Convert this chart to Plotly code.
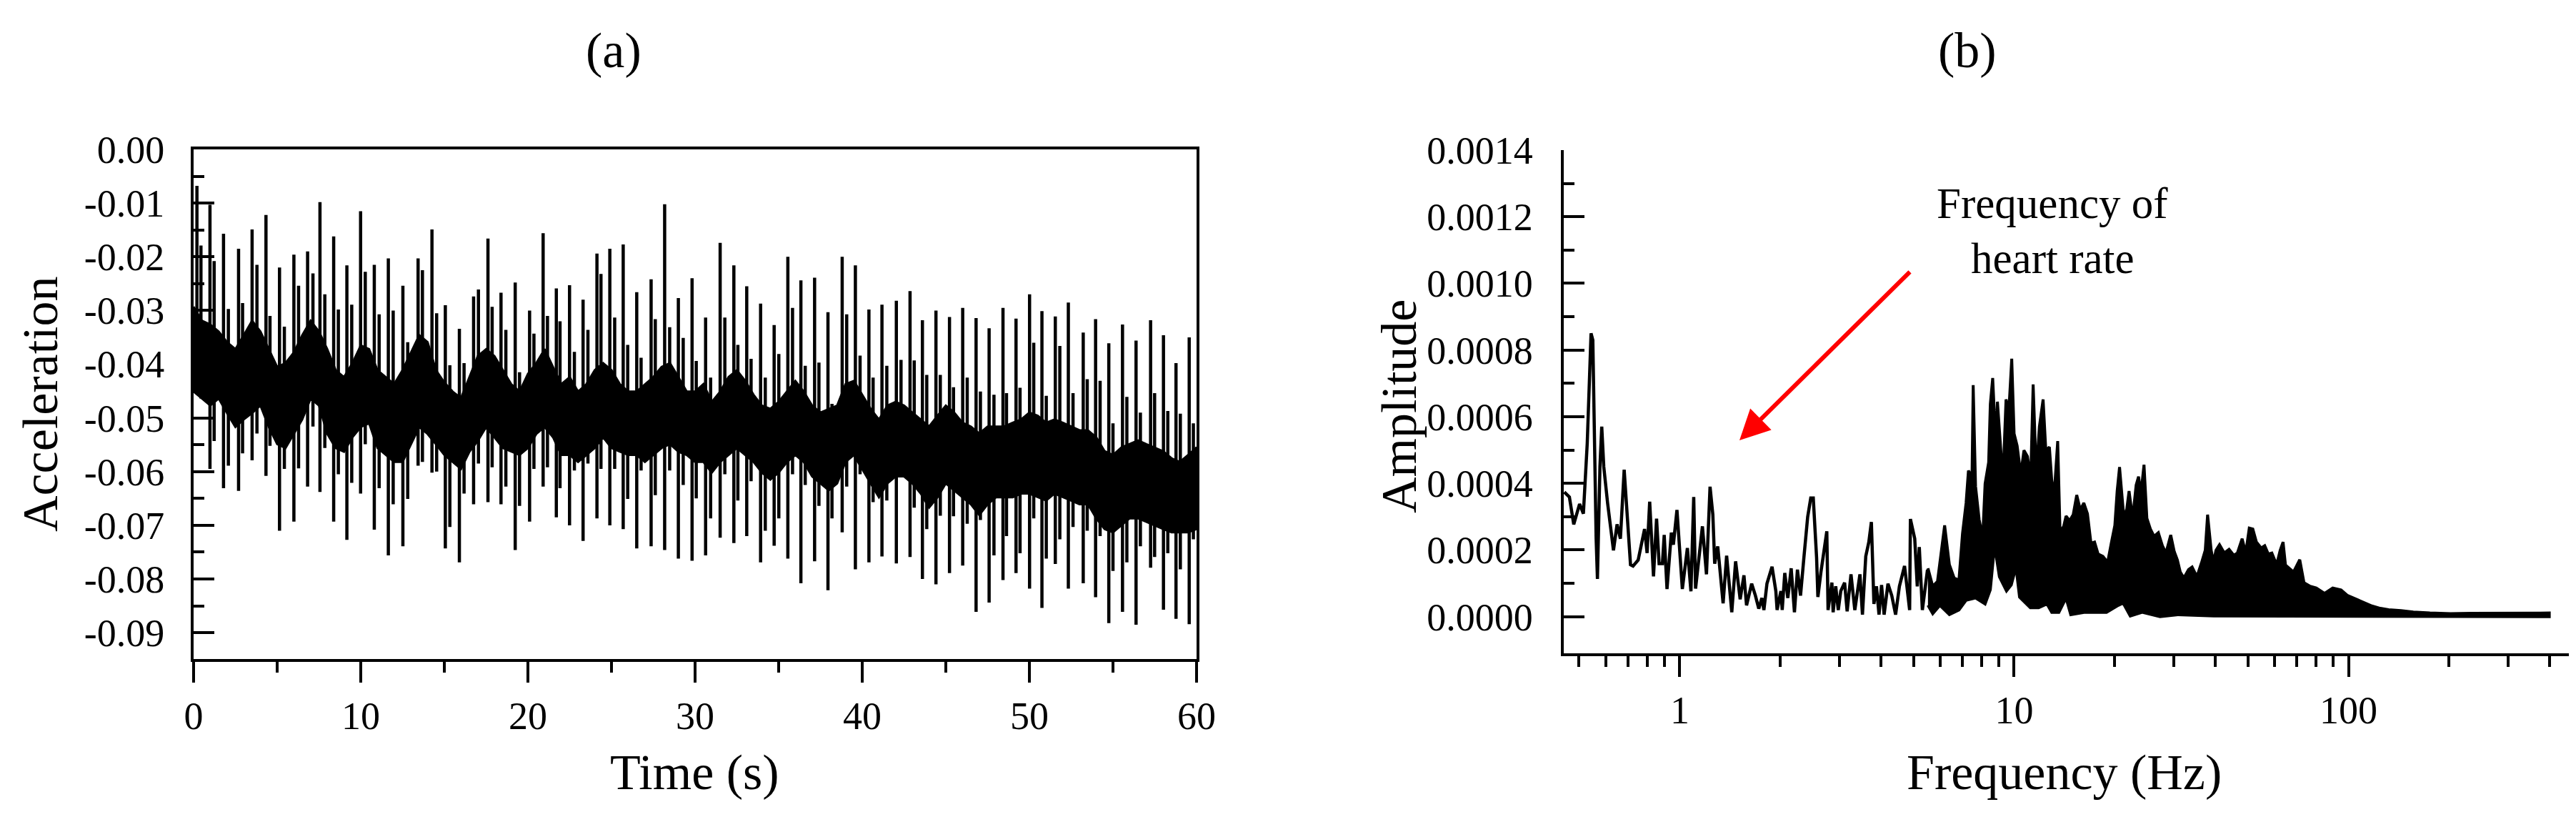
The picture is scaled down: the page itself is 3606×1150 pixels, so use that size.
import plotly.graph_objects as go

W, H = 3606, 1150
FONT = "Liberation Serif"

# ---------------- (a) acceleration time series (values in 1e-4 units) ----------------
# time grid of the dense core band (s)
env_t = [0.0, 0.5, 1.0, 1.5, 2.0, 2.5, 3.0, 3.5, 4.0, 4.5,
         5.0, 5.5, 6.0, 6.5, 7.0, 7.5, 8.0, 8.5, 9.0, 9.5,
         10.0, 10.5, 11.0, 11.5, 12.0, 12.5, 13.0, 13.5, 14.0, 14.5,
         15.0, 15.5, 16.0, 16.5, 17.0, 17.5, 18.0, 18.5, 19.0, 19.5,
         20.0, 20.5, 21.0, 21.5, 22.0, 22.5, 23.0, 23.5, 24.0, 24.5,
         25.0, 25.5, 26.0, 26.5, 27.0, 27.5, 28.0, 28.5, 29.0, 29.5,
         30.0, 30.5, 31.0, 31.5, 32.0, 32.5, 33.0, 33.5, 34.0, 34.5,
         35.0, 35.5, 36.0, 36.5, 37.0, 37.5, 38.0, 38.5, 39.0, 39.5,
         40.0, 40.5, 41.0, 41.5, 42.0, 42.5, 43.0, 43.5, 44.0, 44.5,
         45.0, 45.5, 46.0, 46.5, 47.0, 47.5, 48.0, 48.5, 49.0, 49.5,
         50.0, 50.5, 51.0, 51.5, 52.0, 52.5, 53.0, 53.5, 54.0, 54.5,
         55.0, 55.5, 56.0, 56.5, 57.0, 57.5, 58.0, 58.5, 59.0, 59.5,
         60.0]
# upper / lower edge of the dense band
env_hi = [-293, -319, -326, -339, -359, -372, -346, -319, -339, -372,
          -405, -398, -378, -346, -319, -339, -372, -411, -424, -398,
          -365, -372, -411, -424, -437, -411, -378, -346, -359, -411,
          -434, -451, -463, -424, -385, -372, -385, -411, -437, -451,
          -418, -398, -372, -405, -437, -424, -451, -437, -411, -398,
          -411, -437, -451, -451, -437, -424, -405, -398, -424, -451,
          -451, -437, -470, -451, -424, -411, -431, -457, -477, -483,
          -470, -451, -431, -451, -477, -490, -483, -477, -437, -431,
          -457, -483, -503, -477, -470, -477, -490, -503, -516, -496,
          -477, -490, -509, -516, -529, -516, -516, -516, -509, -503,
          -490, -496, -509, -503, -509, -516, -523, -523, -536, -562,
          -569, -555, -549, -542, -549, -555, -562, -575, -582, -569,
          -555]
env_lo = [-451, -464, -477, -464, -491, -517, -503, -491, -477, -517,
          -549, -556, -530, -503, -464, -477, -530, -556, -563, -536,
          -517, -510, -556, -569, -582, -582, -549, -517, -530, -549,
          -569, -582, -595, -563, -543, -517, -536, -556, -563, -569,
          -556, -530, -517, -536, -569, -569, -582, -569, -556, -536,
          -556, -563, -569, -569, -582, -569, -556, -549, -563, -569,
          -582, -582, -602, -582, -569, -556, -569, -582, -602, -615,
          -602, -582, -569, -582, -609, -622, -635, -622, -582, -569,
          -595, -622, -648, -622, -609, -609, -622, -641, -667, -648,
          -622, -635, -648, -661, -681, -661, -648, -648, -648, -641,
          -641, -648, -654, -641, -648, -654, -661, -661, -687, -707,
          -713, -700, -687, -687, -694, -700, -707, -713, -713, -713,
          -707]

# heartbeat spikes: time (s), top and bottom of each spike
spike_t = [0.20, 0.44, 0.98, 1.23, 1.79, 2.08, 2.69, 2.93, 3.50, 3.79,
           4.33, 4.57, 5.14, 5.43, 6.00, 6.28, 6.82, 7.14, 7.56, 7.85,
           8.38, 8.66, 9.17, 9.46, 9.99, 10.27, 10.81, 11.10, 11.65, 11.94,
           12.52, 12.81, 13.43, 13.69, 14.26, 14.54, 15.06, 15.33, 15.90, 16.18,
           16.75, 17.04, 17.61, 17.86, 18.39, 18.68, 19.24, 19.50, 20.10, 20.36,
           20.91, 21.17, 21.70, 21.92, 22.49, 22.78, 23.30, 23.59, 24.13, 24.37,
           24.90, 25.19, 25.70, 25.97, 26.51, 26.77, 27.37, 27.62, 28.18, 28.48,
           29.00, 29.29, 29.82, 30.07, 30.63, 30.93, 31.50, 31.78, 32.32, 32.56,
           33.09, 33.35, 33.92, 34.20, 34.73, 35.01, 35.55, 35.83, 36.33, 36.59,
           37.15, 37.41, 37.95, 38.19, 38.80, 39.07, 39.59, 39.87, 40.40, 40.65,
           41.18, 41.47, 42.04, 42.32, 42.86, 43.11, 43.60, 43.86, 44.41, 44.67,
           45.22, 45.46, 46.01, 46.28, 46.81, 47.07, 47.59, 47.88, 48.42, 48.63,
           49.20, 49.44, 50.01, 50.26, 50.75, 51.01, 51.55, 51.82, 52.33, 52.61,
           53.22, 53.46, 53.96, 54.23, 54.75, 55.00, 55.57, 55.83, 56.38, 56.64,
           57.25, 57.49, 58.02, 58.28, 58.77, 59.03, 59.56, 59.81]
spike_top = [-68, -179, -103, -208, -157, -297, -185, -286, -149, -215,
             -122, -310, -220, -330, -196, -254, -190, -231, -98, -270,
             -162, -298, -216, -289, -115, -228, -215, -307, -203, -300,
             -254, -359, -203, -225, -149, -305, -290, -402, -334, -398,
             -274, -261, -166, -293, -267, -336, -248, -415, -300, -343,
             -156, -310, -259, -320, -253, -377, -280, -336, -194, -232,
             -185, -313, -177, -364, -266, -388, -242, -316, -102, -331,
             -277, -351, -240, -394, -313, -425, -174, -313, -216, -364,
             -255, -390, -287, -425, -327, -381, -200, -295, -244, -403,
             -239, -397, -303, -474, -200, -307, -216, -384, -298, -425,
             -289, -403, -282, -392, -264, -393, -318, -420, -300, -420,
             -312, -443, -295, -425, -314, -451, -333, -457, -295, -454,
             -315, -444, -270, -360, -301, -459, -311, -366, -285, -454,
             -341, -428, -316, -431, -361, -510, -326, -461, -356, -490,
             -318, -454, -346, -487, -398, -492, -350, -510]
spike_bot = [-431, -464, -595, -543, -631, -589, -636, -566, -579, -529,
             -608, -552, -710, -595, -693, -594, -628, -516, -638, -556,
             -693, -605, -727, -621, -641, -549, -708, -631, -756, -661,
             -739, -651, -589, -582, -602, -600, -743, -703, -769, -641,
             -661, -585, -657, -592, -661, -628, -746, -664, -693, -595,
             -628, -592, -685, -631, -700, -598, -729, -585, -687, -595,
             -700, -595, -707, -651, -743, -598, -739, -644, -746, -598,
             -762, -625, -766, -650, -756, -687, -723, -605, -733, -654,
             -720, -618, -769, -710, -738, -687, -762, -605, -808, -625,
             -767, -664, -821, -687, -713, -628, -782, -605, -769, -657,
             -758, -654, -771, -605, -759, -667, -800, -707, -810, -682,
             -789, -683, -775, -697, -861, -690, -844, -756, -802, -720,
             -789, -752, -818, -687, -854, -762, -772, -726, -818, -703,
             -808, -710, -834, -720, -882, -785, -861, -769, -885, -739,
             -779, -759, -857, -752, -874, -782, -884, -726]

# ---------------- (b) amplitude spectrum (amplitudes in 1e-4 units) ----------------
low_f = [0.4516, 0.4677, 0.4819, 0.5017, 0.5150, 0.5288, 0.5429, 0.5496, 0.5623, 0.5673,
         0.5772, 0.5844, 0.5926, 0.6084, 0.6335, 0.6494, 0.6645, 0.6820, 0.7124, 0.7250,
         0.7511, 0.7848, 0.7987, 0.8130, 0.8346, 0.8524, 0.8675, 0.8875, 0.8985, 0.9160,
         0.9437, 0.9570, 0.9809, 1.018, 1.054, 1.080, 1.101, 1.115, 1.169, 1.202,
         1.232, 1.256, 1.272, 1.299, 1.348, 1.381, 1.431, 1.469, 1.516, 1.556,
         1.584, 1.641, 1.684, 1.723, 1.760, 1.785, 1.823, 1.888, 1.938, 1.955,
         2.007, 2.025, 2.061, 2.105, 2.154, 2.203, 2.249, 2.297, 2.351, 2.413,
         2.465, 2.508, 2.566, 2.589, 2.644, 2.705, 2.753, 2.777, 2.851, 2.876,
         2.927, 2.979, 3.031, 3.112, 3.167, 3.252, 3.339, 3.458, 3.519, 3.600,
         3.677, 3.742, 3.808, 3.875, 3.944, 4.014, 4.085, 4.195, 4.306, 4.421,
         4.539, 4.702, 4.870, 4.896, 5.044, 5.133, 5.205, 5.316, 5.507]
low_a = [3.74, 3.59, 2.77, 3.38, 3.09, 5.20, 8.50, 8.30, 2.34, 1.13,
         4.50, 5.70, 4.50, 3.41, 1.99, 2.77, 2.34, 4.41, 1.56, 1.52,
         1.70, 2.63, 1.91, 3.45, 1.21, 2.94, 1.59, 1.59, 2.45, 0.83,
         2.52, 2.16, 3.20, 0.83, 2.06, 0.76, 3.59, 0.84, 2.71, 1.27,
         3.90, 3.06, 1.59, 2.11, 0.40, 1.83, 0.13, 1.66, 0.52, 1.24,
         0.34, 0.99, 0.63, 0.24, 0.56, 0.20, 0.99, 1.50, 0.77, 0.20,
         0.77, 0.20, 1.31, 0.56, 1.45, 0.13, 1.41, 0.63, 1.77, 2.99,
         3.56, 3.56, 1.77, 0.59, 1.34, 2.13, 2.56, 0.20, 1.02, 0.13,
         0.91, 0.20, 0.77, 1.02, 0.16, 1.27, 0.20, 1.27, 0.06, 1.81,
         2.24, 2.84, 0.38, 0.91, 0.06, 0.95, 0.06, 0.99, 0.63, 0.06,
         0.91, 1.52, 0.20, 2.93, 2.34, 0.91, 2.09, 0.20, 1.41]

up_f = [5.525, 5.710, 5.900, 6.046, 6.197, 6.403, 6.617, 6.838, 7.008, 7.183,
        7.301, 7.482, 7.544, 7.668, 7.861, 8.054, 8.188, 8.391, 8.488, 8.628,
        8.813, 8.915, 9.108, 9.258, 9.458, 9.646, 9.838, 10.00, 10.21, 10.47,
        10.70, 10.96, 11.21, 11.40, 11.65, 11.90, 12.21, 12.44, 12.75, 12.96,
        13.17, 13.50, 13.72, 14.06, 14.30, 14.65, 15.02, 15.39, 15.78, 16.16,
        16.57, 16.98, 17.40, 17.83, 18.43, 19.04, 19.52, 20.01, 20.33, 20.67,
        21.18, 21.54, 22.07, 22.62, 23.17, 23.56, 23.95, 24.46, 24.95, 25.56,
        26.22, 27.00, 27.76, 28.45, 29.40, 30.13, 30.78, 31.40, 32.17, 33.24,
        34.07, 35.21, 36.38, 37.29, 37.90, 38.85, 39.49, 40.14, 41.14, 42.52,
        43.94, 45.40, 46.53, 48.08, 49.28, 50.50, 51.75, 53.04, 54.81, 56.17,
        57.56, 58.99, 60.97, 62.48, 63.73, 64.8, 68.5, 71.5, 73.6, 76.8,
        80.1, 84.8, 89.7, 95.0, 99.1, 104.9, 111.1, 117.5, 124.5, 131.8,
        143.5, 156.3, 175.1, 201.7, 232.4, 308.7, 398.6]
up_a = [1.45, 0.91, 1.06, 1.99, 2.74, 1.56, 1.16, 1.09, 2.49, 3.41,
        4.38, 4.20, 6.95, 3.91, 2.91, 2.38, 3.99, 4.63, 6.38, 7.16,
        5.20, 6.45, 5.20, 4.09, 6.52, 6.20, 7.74, 5.49, 5.13, 4.27,
        4.99, 4.81, 4.13, 6.97, 4.27, 5.70, 6.52, 4.99, 5.09, 4.09,
        3.63, 5.27, 2.56, 2.70, 3.02, 2.88, 3.06, 3.65, 3.20, 3.41,
        3.09, 2.20, 2.24, 1.88, 1.81, 1.63, 2.20, 2.74, 3.77, 4.49,
        3.24, 2.95, 3.77, 2.95, 3.95, 4.20, 3.70, 4.56, 2.95, 2.63,
        2.41, 2.52, 2.13, 1.91, 2.45, 1.95, 1.70, 1.34, 1.16, 1.41,
        1.49, 1.20, 1.63, 1.99, 3.06, 1.99, 1.63, 1.99, 2.16, 1.91,
        2.02, 1.84, 1.91, 2.34, 1.91, 2.66, 2.63, 2.24, 2.06, 2.13,
        1.88, 1.91, 1.56, 1.99, 2.24, 1.55, 1.34, 1.71, 1.02, 0.91,
        0.86, 0.70, 0.86, 0.80, 0.64, 0.54, 0.43, 0.32, 0.25, 0.21,
        0.18, 0.14, 0.11, 0.09, 0.10, 0.11, 0.11]
lo_f = [5.525, 5.710, 5.996, 6.403, 6.838, 7.183, 7.668, 8.188, 8.488, 8.741,
        9.035, 9.489, 9.806, 10.13, 10.38, 11.18, 11.84, 12.54, 12.96, 13.61,
        14.30, 14.77, 16.30, 18.89, 20.50, 21.18, 22.25, 24.15, 27.31, 30.88,
        39.49, 50.50, 64.57, 100.0, 398.6]
lo_a = [0.34, 0.09, 0.34, 0.06, 0.20, 0.49, 0.56, 0.38, 0.81, 2.13,
        1.20, 0.77, 0.95, 1.49, 0.59, 0.27, 0.27, 0.38, 0.13, 0.13,
        0.56, 0.06, 0.13, 0.13, 0.34, 0.41, 0.02, 0.13, 0.00, 0.06,
        0.02, 0.02, 0.00, 0.00, 0.00]

acc_ticks = [0.0, -0.01, -0.02, -0.03, -0.04, -0.05, -0.06, -0.07, -0.08, -0.09]
acc_ticktext = ["0.00", "-0.01", "-0.02", "-0.03", "-0.04", "-0.05", "-0.06", "-0.07", "-0.08", "-0.09"]
acc_minor = [-0.005, -0.015, -0.025, -0.035, -0.045, -0.055, -0.065, -0.075, -0.085]
time_ticks = [0, 10, 20, 30, 40, 50, 60]
time_minor = [5, 15, 25, 35, 45, 55]
amp_ticks = [0.0, 0.0002, 0.0004, 0.0006, 0.0008, 0.0010, 0.0012, 0.0014]
amp_ticktext = ["0.0000", "0.0002", "0.0004", "0.0006", "0.0008", "0.0010", "0.0012", "0.0014"]
amp_minor = [0.0001, 0.0003, 0.0005, 0.0007, 0.0009, 0.0011, 0.0013]
freq_ticks = [1, 10, 100]
freq_ticktext = ["1", "10", "100"]
freq_minor = [0.5, 0.6, 0.7, 0.8, 0.9, 2, 3, 4, 5, 6, 7, 8, 9,
              20, 30, 40, 50, 60, 70, 80, 90, 200, 300, 400]

E4 = 1e-4

fig = go.Figure()

# (a) dense core band
fig.add_trace(go.Scatter(
    x=env_t + env_t[::-1],
    y=[v * E4 for v in env_hi + env_lo[::-1]],
    fill="toself", fillcolor="black", mode="lines",
    line=dict(color="black", width=3), xaxis="x", yaxis="y",
    showlegend=False, hoverinfo="skip"))
# (a) heartbeat spikes
sx, sy = [], []
for t, top, bot in zip(spike_t, spike_top, spike_bot):
    sx += [t, t, None]
    sy += [bot * E4, top * E4, None]
fig.add_trace(go.Scatter(x=sx, y=sy, mode="lines", line=dict(color="black", width=4.5),
                         xaxis="x", yaxis="y", showlegend=False, hoverinfo="skip"))

# (b) low-frequency part
fig.add_trace(go.Scatter(x=low_f, y=[a * E4 for a in low_a], mode="lines",
                         line=dict(color="black", width=4.5),
                         xaxis="x2", yaxis="y2", showlegend=False, hoverinfo="skip"))
# (b) dense high-frequency part
fig.add_trace(go.Scatter(
    x=up_f + lo_f[::-1],
    y=[a * E4 for a in up_a + lo_a[::-1]],
    fill="toself", fillcolor="black", mode="lines",
    line=dict(color="black", width=4), xaxis="x2", yaxis="y2",
    showlegend=False, hoverinfo="skip"))

tickfont = dict(family=FONT, size=54, color="black")
base = dict(showline=True, linecolor="black", linewidth=4, showgrid=False, zeroline=False,
            tickcolor="black", tickwidth=4, ticklen=29, tickfont=tickfont, automargin=False)

def minor(kind, vals):
    return dict(ticks=kind, ticklen=15, tickwidth=4, tickcolor="black",
                tickmode="array", tickvals=vals, showgrid=False)

X0a, X1a = 263 / W, 1667 / W
YTa, YBa = 1 - 201 / H, 1 - 914 / H
X0b, X1b = 2180.6 / W, 3587.5 / W
YTb, YBb = 1 - 202 / H, 1 - 906 / H

fig.update_layout(
    width=W, height=H,
    margin=dict(l=0, r=0, t=0, b=0, pad=0),
    paper_bgcolor="white", plot_bgcolor="white",
    template="none",
    showlegend=False,
    xaxis=dict(base, domain=[X0a, X1a], anchor="y", range=[0, 60], ticks="outside",
               tickmode="array", tickvals=time_ticks, mirror=True,
               minor=minor("outside", time_minor)),
    yaxis=dict(base, domain=[YBa, YTa], anchor="x", range=[-0.0949, 0], ticks="inside",
               tickmode="array", tickvals=acc_ticks, ticktext=acc_ticktext, mirror=True,
               ticklabelstandoff=26, minor=minor("inside", acc_minor)),
    xaxis2=dict(base, domain=[X0b, X1b], anchor="y2", type="log",
                range=[-0.3478, 2.658], ticks="outside",
                tickmode="array", tickvals=freq_ticks, ticktext=freq_ticktext,
                minor=minor("outside", freq_minor)),
    yaxis2=dict(base, domain=[YBb, YTb], anchor="x2", range=[-0.00011, 0.0014], ticks="inside",
                tickmode="array", tickvals=amp_ticks, ticktext=amp_ticktext,
                ticklabelstandoff=28, minor=minor("inside", amp_minor)),
)

def ann(text, x, y, size, angle=0):
    fig.add_annotation(text=text, x=x / W, y=1 - y / H, xref="paper", yref="paper",
                       showarrow=False, textangle=angle, xanchor="center", yanchor="middle",
                       font=dict(family=FONT, size=size, color="black"))

ann("(a)", 851, 62, 70)
ann("(b)", 2746, 62, 70)
ann("Time (s)", 964, 1072, 70)
ann("Frequency (Hz)", 2881, 1072, 70)
ann("Acceleration", 48, 557, 70, -90)
ann("Amplitude", 1950, 560, 70, -90)
ann("Frequency of", 2865, 276, 61)
ann("heart rate", 2865, 353, 61)

# red arrow pointing to heart-rate frequency
fig.add_annotation(text="", x=2427 / W, y=1 - 608 / H, xref="paper", yref="paper",
                   showarrow=True, ax=240, ay=-237, axref="pixel", ayref="pixel",
                   arrowhead=2, arrowsize=1.4, arrowwidth=6, arrowcolor="#ff0000",
                   standoff=0, startstandoff=0)

fig.write_html("out.html")
